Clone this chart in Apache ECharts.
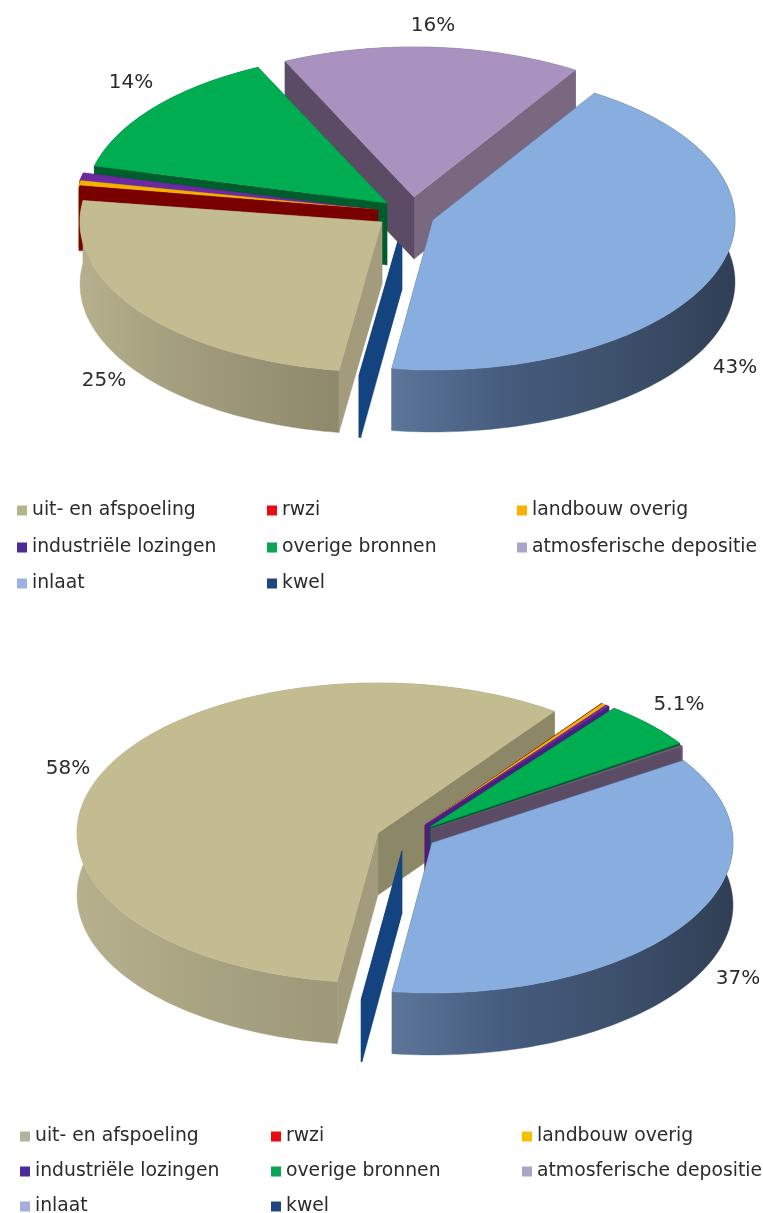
<!DOCTYPE html>
<html>
<head>
<meta charset="utf-8">
<style>html,body{margin:0;padding:0;background:#fff}#c{width:763px;height:1213px}</style>
<script src="https://cdn.jsdelivr.net/npm/echarts@6/dist/echarts.min.js"></script>
</head>
<body>
<div id="c"></div>
<script>
// ---- data ----
const categories = ['uit- en afspoeling','rwzi','landbouw overig','industriële lozingen','overige bronnen','atmosferische depositie','inlaat','kwel'];
const valuesTop = [25, 0.3, 0.55, 0.85, 14, 16, 43.2, 0.1];
const valuesBottom = [57.8, 0.05, 0.25, 0.2, 5.1, 0.15, 36.4, 0.05];
const labelsTop = ['25%','','','','14%','16%','43%',''];
const labelsBottom = ['58%','','','','5.1%','','37%',''];

// ---- layout & style ----
const FONT = '"DejaVu Sans", Verdana, sans-serif';
const grad = (stops) => new echarts.graphic.LinearGradient(0,0,1,0,stops.map((c,i)=>({offset:i/(stops.length-1),color:c})));
const TAN_SIDE = ['#b6b08d','#a5a07f','#9a9476','#8e896c'];
const BLUE_SIDE = ['#5c7599','#455c7e','#3d506b','#303f55'];
const styles = [
  {top:'#c3bc91', a:'#a29c7c', b:'#8c8767', side:TAN_SIDE},
  {top:'#7a0000', a:'#7a0000', b:'#7a0000', side:['#7a0000']},
  {top:'#f5b000', a:'#c08c00', b:'#c08c00', side:['#c08c00']},
  {top:'#6b2aa0', a:'#4a1f80', b:'#4a1f80', side:['#4a1f80']},
  {top:'#00ad50', a:'#005c2d', b:'#005c2d', side:['#005c2d']},
  {top:'#a992bf', a:'#5b4b65', b:'#7a6880', side:['#6a5a72']},
  {top:'#88aee0', a:'#3d506b', b:'#3d506b', side:BLUE_SIDE, seq:['a','b','side']},
  {top:'#134480', a:'#134480', b:'#134480', side:['#134480']}
];
const pies = [
  { values:valuesTop, labels:labelsTop, start:8.2, rx:302, ry:150, depth:62,
    apex:[[382,222],[378,210],[377,210],[376,210],[387,203],[414,197],[433,220],[402,227]],
    order:[7,5,4,3,2,1,0,6],
    labelPos:[[104,381],null,null,null,[131,83],[433,26],[735,368],null],
    legendX:[17,267,517], legendY:[501,538,574], styleOverride:{0:{seq:['b','side','a']}},
    legendColors:['#b5b58a','#ea0a14','#fdb000','#4b2a9e','#0aa455','#aba4c8','#9bb0e4','#1f4480'] },
  { values:valuesBottom, labels:labelsBottom, start:7.8, rx:301, ry:150, depth:62,
    apex:[[378,833],[425,825],[425,825],[425,825],[430,827],[431,829],[432,843],[402,851]],
    order:[0,7,1,2,3,4,5,6],
    labelPos:[[68,769],null,null,null,[679,705],null,[738,979],null],
    legendX:[20,271,522], legendY:[1127,1162,1197], styleOverride:{5:{top:'#6b5a75', b:'#6b5a75'}},
    legendColors:['#b3b3a0','#ea0a14','#f5c000','#4b2a9e','#0aa455','#aba4c8','#a5b0d8','#1f4480'] }
];

function slicePolys(pie, i) {
  const total = pie.values.reduce((s,v)=>s+v,0);
  let t0 = pie.start;
  for (let k=0;k<i;k++) t0 += pie.values[k]/total*360;
  const t1 = t0 + pie.values[i]/total*360;
  const [cx,cy] = pie.apex[i];
  const at = (deg) => { const r=deg*Math.PI/180; return [cx-pie.rx*Math.sin(r), cy+pie.ry*Math.cos(r)]; };
  const arc = [];
  const n = Math.max(2, Math.ceil((t1-t0)/1.5));
  for (let k=0;k<=n;k++) arc.push(at(t0+(t1-t0)*k/n));
  const d = pie.depth;
  const down = (p) => [p[0], p[1]+d];
  const c=[cx,cy];
  return {
    a:[c,arc[0],down(arc[0]),down(c)],
    b:[c,arc[n],down(arc[n]),down(c)],
    side:arc.concat(arc.slice().reverse().map(down)),
    top:[c].concat(arc)
  };
}
const poly = (points, fill) => ({type:'polygon', shape:{points}, style:{fill, stroke:fill, lineWidth:0.4}});

function makeSeries(pie, pi) {
  return pie.order.map((i) => ({
    type:'custom', id:'p'+pi+'s'+i, name:categories[i], coordinateSystem:'none', silent:true,
    animation:false, clip:false,
    itemStyle:{color:pie.legendColors[i]},
    data:[[pie.values[i]]],
    renderItem:function(){
      const s = slicePolys(pie,i), st = Object.assign({}, styles[i], pie.styleOverride[i]||{});
      const sideFill = st.side.length>1 ? grad(st.side) : st.side[0];
      const fills = {side:sideFill, a:st.a, b:st.b};
      const seq = st.seq || ['side','b','a'];
      const children = seq.map(k=>poly(s[k],fills[k])).concat([poly(s.top,st.top)]);
      return {type:'group', children};
    }
  }));
}
function labelSeries(pie, pi) {
  return {
    type:'custom', id:'labels'+pi, coordinateSystem:'none', silent:true, animation:false, z:5,
    data:pie.labels.map((l,i)=>[i]).filter(r=>pie.labels[r[0]]),
    renderItem:function(params, api){
      const i = api.value(0), p = pie.labelPos[i];
      return {type:'text', style:{x:p[0], y:p[1], text:pie.labels[i], fill:'#2b2b2b', font:'20px '+FONT, align:'center', verticalAlign:'middle'}};
    }
  };
}
function legends(pie) {
  return categories.map((name,i)=>({
    show:true, left:pie.legendX[i%3], top:pie.legendY[Math.floor(i/3)], padding:0, orient:'horizontal',
    icon:'rect', itemWidth:10, itemHeight:10, selectedMode:false,
    data:[{name, itemStyle:{color:pie.legendColors[i]}}],
    textStyle:{fontFamily:FONT, fontSize:18.8, color:'#2b2b2b', padding:[0,0,0,0]}
  }));
}
const chart = echarts.init(document.getElementById('c'), null, {renderer:'canvas'});
chart.setOption({
  backgroundColor:'#fff', animation:false,
  legend:pies.flatMap(legends),
  series:pies.flatMap((p,i)=>makeSeries(p,i).concat(labelSeries(p,i)))
});
</script>
</body>
</html>
